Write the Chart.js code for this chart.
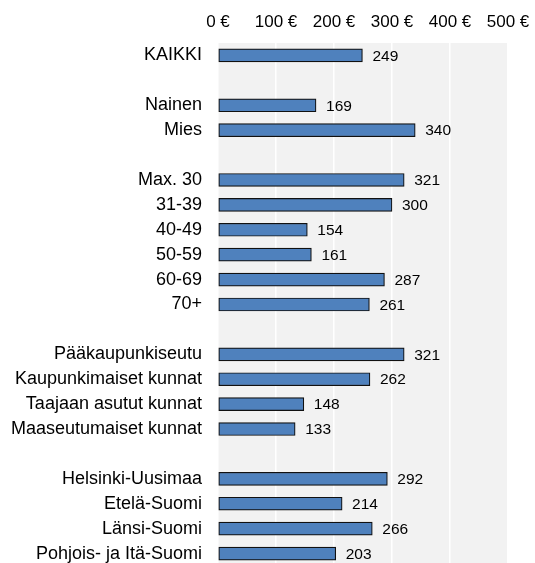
<!DOCTYPE html>
<html>
<head>
<meta charset="utf-8">
<script src="https://cdn.jsdelivr.net/npm/chart.js@4/dist/chart.umd.min.js"></script>
<style>
html,body{margin:0;padding:0;background:#fff;overflow:hidden;}
#wrap{width:535px;height:566px;position:relative;}
</style>
</head>
<body>
<div id="wrap"><canvas id="c"></canvas></div>
<script>
const categories = ["KAIKKI","","Nainen","Mies","","Max. 30","31-39","40-49","50-59","60-69","70+","","Pääkaupunkiseutu","Kaupunkimaiset kunnat","Taajaan asutut kunnat","Maaseutumaiset kunnat","","Helsinki-Uusimaa","Etelä-Suomi","Länsi-Suomi","Pohjois- ja Itä-Suomi"];
const values = [249,null,169,340,null,321,300,154,161,287,261,null,321,262,148,133,null,292,214,266,203];
const tickValues = [0,100,200,300,400,500];
const tickSuffix = " €";

const FONT = "'Liberation Sans', Arial, sans-serif";

const bgPlugin = {
  id:'bg',
  beforeDraw(chart){
    const {ctx, chartArea:a} = chart;
    ctx.save();
    ctx.fillStyle = '#f2f2f2';
    ctx.fillRect(a.left, a.top, a.right-a.left, a.bottom-a.top);
    ctx.restore();
  }
};
const labelPlugin = {
  id:'vals',
  afterDatasetsDraw(chart){
    const {ctx} = chart;
    const meta = chart.getDatasetMeta(0);
    ctx.save();
    ctx.font = '15.5px ' + FONT;
    ctx.fillStyle = '#000';
    ctx.textBaseline = 'middle';
    ctx.textAlign = 'left';
    meta.data.forEach((el,i)=>{
      const v = chart.data.datasets[0].data[i];
      if(v===null) return;
      ctx.fillText(String(v), el.x + 10, el.y + 1);
    });
    ctx.restore();
  }
};

new Chart(document.getElementById('c'), {
  type:'bar',
  data:{
    labels:categories,
    datasets:[{
      data:values,
      backgroundColor:'#4f81bd',
      borderColor:'#111111',
      borderWidth:1.2,
      borderSkipped:false,
      barThickness:13
    }]
  },
  plugins:[bgPlugin,labelPlugin],
  options:{
    indexAxis:'y',
    responsive:true,
    maintainAspectRatio:false,
    animation:false,
    layout:{padding:{top:11,right:27,bottom:0,left:0}},
    plugins:{legend:{display:false},tooltip:{enabled:false}},
    scales:{
      x:{
        position:'top',
        min:tickValues[0],
        max:tickValues[tickValues.length-1],
        afterBuildTicks(scale){ scale.ticks = tickValues.map(v=>({value:v})); },
        afterFit(scale){ scale.height = 32; scale.paddingLeft = 0; scale.paddingRight = 0; },
        ticks:{
          callback:(v)=>v + tickSuffix,
          font:{family:FONT,size:17},
          color:'#000',
          padding:10,
          maxRotation:0
        },
        grid:{color:'#ffffff',lineWidth:1.5,drawTicks:false},
        border:{display:false}
      },
      y:{
        afterFit(scale){ scale.width = 218; scale.paddingTop = 0; scale.paddingBottom = 0; },
        ticks:{
          font:{family:FONT,size:18},
          color:'#000',
          padding:16,
          autoSkip:false
        },
        grid:{display:false,drawTicks:false},
        border:{display:false}
      }
    }
  }
});
</script>
</body>
</html>
